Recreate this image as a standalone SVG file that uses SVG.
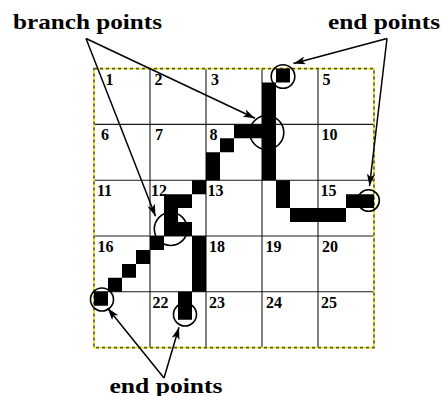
<svg xmlns="http://www.w3.org/2000/svg" width="442" height="396" viewBox="0 0 442 396">
  <defs>
    <style>
      .title { font-family: "Liberation Serif", "Times New Roman", serif; font-weight: bold; font-size: 21px; fill: #000; }
      .num { font-family: "Liberation Serif", "Times New Roman", serif; font-weight: bold; font-size: 16px; fill: #000; }
      .grid { stroke: #1a1a1a; stroke-width: 1.1; fill: none; }
      .ring { stroke: #000; stroke-width: 1.6; fill: none; }
      .pointer { stroke: #000; stroke-width: 1.5; fill: none; marker-end: url(#head); }
    </style>
    <marker id="head" markerUnits="userSpaceOnUse" markerWidth="12" markerHeight="8" viewBox="0 0 12 8" refX="12" refY="4" orient="auto">
      <path d="M0,0 L12,4 L0,8 L3,4 Z" fill="#000"/>
    </marker>
  </defs>

  <rect width="442" height="396" fill="#fff"/>

  <!-- 5x5 grid of cells -->
  <g id="grid">
    <path class="grid" d="M150,68.6V347.6 M206,68.6V347.6 M262,68.6V347.6 M318,68.6V347.6 M94,124.4H374 M94,180.2H374 M94,236H374 M94,291.8H374"/>
    <rect x="94" y="68.6" width="280" height="279" fill="none" stroke="#f2e600" stroke-width="1.6"/>
    <rect x="94" y="68.6" width="280" height="279" fill="none" stroke="#555" stroke-width="1.6" stroke-dasharray="3 3"/>
  </g>

  <!-- skeleton pixels (20x20 raster, 4 per cell) -->
  <g id="skeleton" transform="translate(94 68.6) scale(14 13.95)">
    <path fill="#000" d="M13 0h1v1h-1z M12 1h1v7h-1z M10 4h2v1h-2z M9 5h1v1h-1z M8 6h1v2h-1z M7 8h1v1h-1z M5 9h2v1h-2z M5 10h1v1h-1z M5 11h2v1h-2z M4 12h1v1h-1z M3 13h1v1h-1z M2 14h1v1h-1z M1 15h1v1h-1z M0 16h1v1h-1z M7 12h1v4h-1z M6 16h1v2h-1z M13 8h1v2h-1z M14 10h4v1h-4z M18 9h2v1h-2z"/>
  </g>

  <!-- cell numbers -->
  <g id="cell-numbers" class="num">
    <text x="105.5" y="84.5">1</text>
    <text x="154.5" y="84.5">2</text>
    <text x="211" y="84.5">3</text>
    <text x="322.5" y="84.5">5</text>
    <text x="101" y="140">6</text>
    <text x="155" y="140">7</text>
    <text x="209.5" y="140">8</text>
    <text x="321.5" y="140">10</text>
    <text x="97" y="195.5">11</text>
    <text x="151" y="195.5">12</text>
    <text x="207.5" y="195.5">13</text>
    <text x="320.5" y="195.5">15</text>
    <text x="97.5" y="251.5">16</text>
    <text x="209" y="251.5">18</text>
    <text x="265.5" y="251.5">19</text>
    <text x="322" y="251.5">20</text>
    <text x="152.5" y="307.5">22</text>
    <text x="209" y="307.5">23</text>
    <text x="266" y="307.5">24</text>
    <text x="321" y="307.5">25</text>
  </g>

  <!-- highlighted points -->
  <g id="branch-point-8"><circle class="ring" cx="266.8" cy="132.5" r="17"/></g>
  <g id="branch-point-12"><circle class="ring" cx="170.8" cy="229" r="16.5"/></g>
  <g id="end-point-4"><circle class="ring" cx="283" cy="76.5" r="11.8"/></g>
  <g id="end-point-15"><circle class="ring" cx="368.5" cy="200.5" r="10.8"/></g>
  <g id="end-point-16"><circle class="ring" cx="102" cy="299.5" r="11.5"/></g>
  <g id="end-point-22"><circle class="ring" cx="185" cy="314.5" r="11.5"/></g>

  <!-- captions -->
  <g id="label-branch"><text class="title" x="13" y="29" textLength="149" lengthAdjust="spacingAndGlyphs">branch points</text></g>
  <g id="label-end-top"><text class="title" x="328" y="29" textLength="112" lengthAdjust="spacingAndGlyphs">end points</text></g>
  <g id="label-end-bottom"><text class="title" x="109.5" y="392.5" textLength="113" lengthAdjust="spacingAndGlyphs">end points</text></g>

  <!-- pointers from captions to points -->
  <g id="connectors">
    <line class="pointer" x1="86" y1="38.5" x2="255" y2="118.3"/>
    <line class="pointer" x1="86" y1="38.5" x2="155.5" y2="216.3"/>
    <line class="pointer" x1="387" y1="38.5" x2="293.5" y2="63.5"/>
    <line class="pointer" x1="387" y1="38.5" x2="369.5" y2="186"/>
    <line class="pointer" x1="164" y1="378" x2="107.7" y2="308.3"/>
    <line class="pointer" x1="164" y1="378" x2="179" y2="327.3"/>
  </g>
</svg>
